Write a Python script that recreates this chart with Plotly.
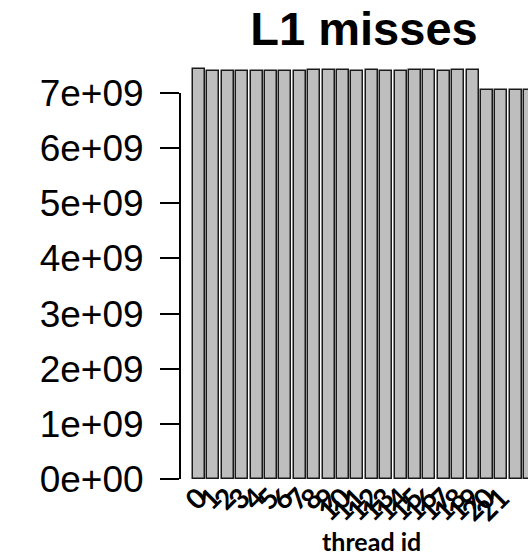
import plotly.graph_objects as go

# ---- data ----
thread_ids = [str(i) for i in range(24)]
l1_misses = [7.43e9, 7.40e9, 7.395e9, 7.40e9, 7.405e9, 7.40e9, 7.405e9, 7.405e9,
             7.415e9, 7.425e9, 7.41e9, 7.405e9, 7.41e9, 7.405e9, 7.405e9, 7.41e9,
             7.425e9, 7.395e9, 7.41e9, 7.41e9, 7.06e9, 7.06e9, 7.06e9, 7.05e9]
y_tick_vals = [0, 1e9, 2e9, 3e9, 4e9, 5e9, 6e9, 7e9]
y_tick_text = ["0e+00", "1e+09", "2e+09", "3e+09", "4e+09", "5e+09", "6e+09", "7e+09"]

x_pos = list(range(len(thread_ids)))

fig = go.Figure()
fig.add_trace(go.Bar(
    x=x_pos, y=l1_misses, width=0.833,
    marker=dict(color="#BEBEBE", line=dict(color="#1a1a1a", width=1.5)),
    showlegend=False,
))

W, H = 528, 559
ml, mr, mt, mb = 180, 0, 60, 80
px_per_unit = 14.4
first_center_px = 199
x_lo = -(first_center_px - ml) / px_per_unit
x_hi = (W - mr - first_center_px) / px_per_unit
plot_h = H - mt - mb
px_per_1e9 = 55.14
y_hi = plot_h / px_per_1e9 * 1e9

fig.update_layout(
    width=W, height=H,
    margin=dict(l=ml, r=mr, t=mt, b=mb),
    paper_bgcolor="white", plot_bgcolor="white",
    bargap=0,
    title=dict(text="<b>L1 misses</b>", x=364 / W, xref="container", xanchor="center",
               y=1 - 29 / H, yref="container", yanchor="middle",
               font=dict(family="Liberation Sans, Arial, sans-serif", size=47, color="black")),
    xaxis=dict(range=[x_lo, x_hi], tickvals=x_pos, ticktext=thread_ids, tickangle=-45,
               showgrid=False, zeroline=False, showline=False, ticks="",
               ticklabelstandoff=-4,
               tickfont=dict(family="Lato, sans-serif", size=28, color="black", weight="bold")),
    yaxis=dict(range=[0, y_hi], tickvals=y_tick_vals, ticktext=y_tick_text,
               showgrid=False, zeroline=False, showline=False,
               ticks="outside", ticklen=19, tickwidth=2, tickcolor="black",
               ticklabelstandoff=9,
               tickfont=dict(family="Liberation Sans, Arial, sans-serif", size=37, color="black")),
    shapes=[dict(type="line", xref="paper", yref="y", x0=0, x1=0, y0=0, y1=7e9,
                 line=dict(color="black", width=2))],
    annotations=[dict(text="<b>thread id</b>", xref="paper", yref="paper",
                      x=(371 - ml) / (W - ml - mr), y=-(541 - (H - mb)) / plot_h,
                      xanchor="center", yanchor="middle", showarrow=False,
                      font=dict(family="Lato, sans-serif", size=25, color="black"))],
)

fig.write_html("out.html")
